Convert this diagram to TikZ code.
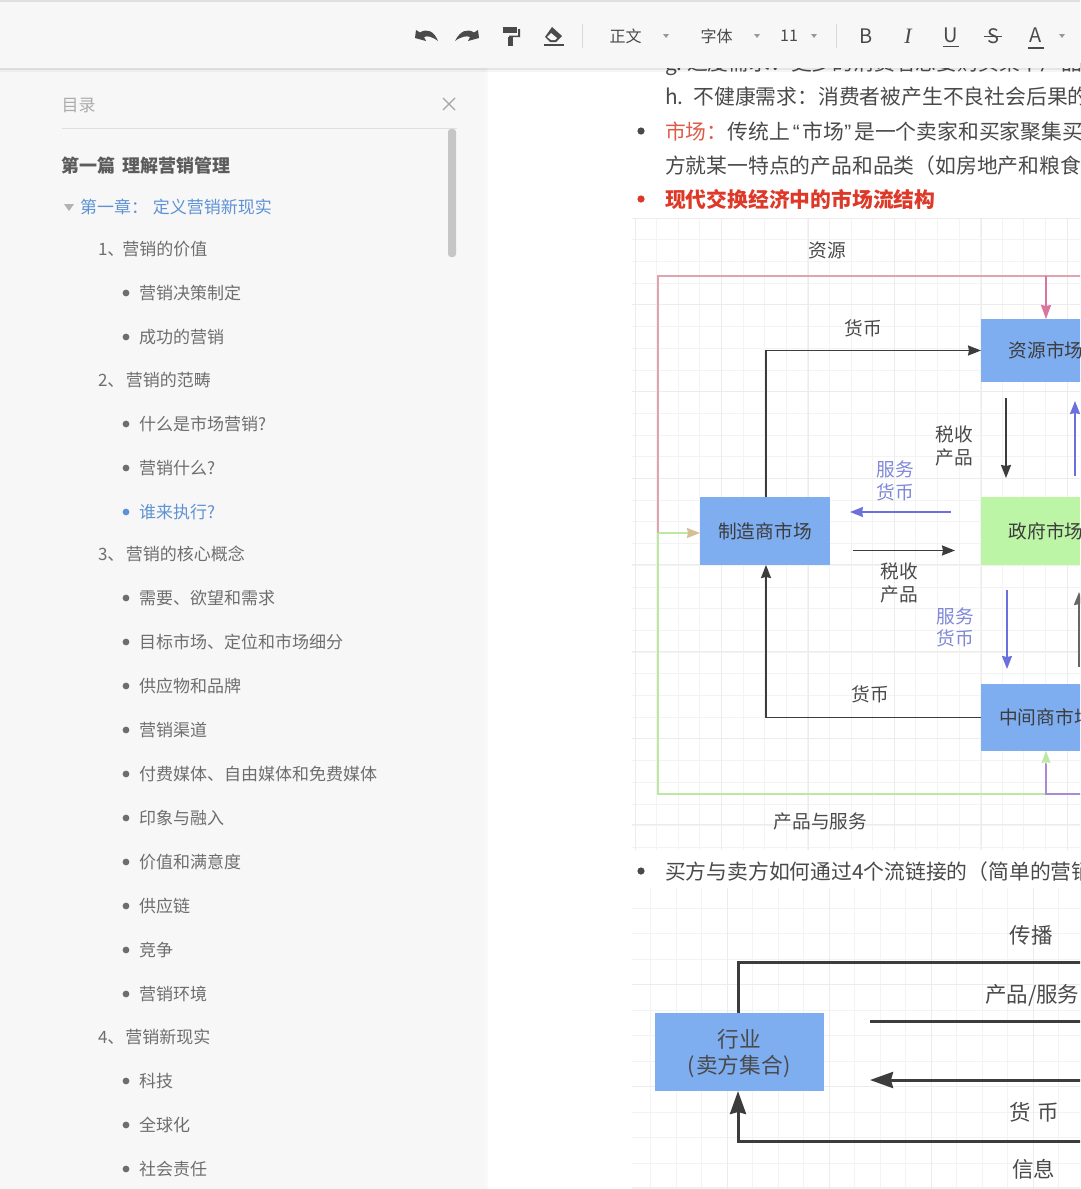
\documentclass[tikz,border=0pt]{standalone}
\usepackage{fontspec}
\setmainfont{Noto Sans CJK SC}
\newfontfamily\serifit{Liberation Serif}
\newfontfamily\latinq{Liberation Sans}
\usetikzlibrary{arrows.meta,calc}
\definecolor{barbg}{HTML}{F7F7F7}
\definecolor{ink}{HTML}{4A4A4A}
\definecolor{tocink}{HTML}{6E6E6E}
\definecolor{tocblue}{HTML}{5F92D4}
\definecolor{boxblue}{HTML}{7EADF0}
\definecolor{boxgreen}{HTML}{BDF5A6}
\definecolor{flowblue}{HTML}{6A70DC}
\definecolor{lblblue}{HTML}{8088D8}
\definecolor{pinkline}{HTML}{E3A3AE}
\definecolor{pinktip}{HTML}{DC74A0}
\definecolor{greenline}{HTML}{BDE8A4}
\definecolor{purpleline}{HTML}{A78BD6}
\definecolor{tantip}{HTML}{D6BE96}
\definecolor{gridfine}{HTML}{F3F3F3}
\definecolor{gridmajor}{HTML}{ECECEC}
\definecolor{arrowink}{HTML}{3C3C3C}
\definecolor{redhead}{HTML}{DE3828}
\definecolor{redlabel}{HTML}{DE5B4A}
\newcommand{\pxfont}[1]{\fontsize{#1}{#1}\selectfont}
\newcommand{\mlabel}[1]{\raisebox{-1pt}{#1}}
\tikzset{
  txt/.style={inner sep=0pt,outer sep=0pt,anchor=center,yshift=-0.4pt,text=ink,font=\pxfont{18.7}},
  body/.style={inner sep=0pt,outer sep=0pt,anchor=west,yshift=-0.4pt,text=ink,font=\pxfont{20.8}},
  toc/.style={inner sep=0pt,outer sep=0pt,anchor=west,yshift=-0.4pt,text=tocink,font=\pxfont{17}},
  tool/.style={inner sep=0pt,outer sep=0pt,anchor=center,text=ink,font=\pxfont{16}},
  market/.style={inner sep=0pt,outer sep=0pt,minimum width=130pt,fill=boxblue,text=arrowink,font=\pxfont{18.7}},
  flow/.style={draw=arrowink,line width=1.6pt,-{Stealth[length=13pt,width=10pt,inset=1pt]}},
  flowb/.style={draw=flowblue,line width=1.5pt,-{Stealth[length=13pt,width=10pt,inset=1pt]}},
  thickflow/.style={draw=arrowink,line width=3pt,-{Stealth[length=23pt,width=16pt,inset=2pt]}},
  thickline/.style={draw=arrowink,line width=3pt},
  caret/.style={fill=gray!80,draw=none}
}
\newcommand{\tocA}[2]{\node[toc] (a#1) at (98,#1) {#2};}
\newcommand{\tocB}[2]{\fill[tocink] (126,#1) circle (3.4pt); \node[toc] (b#1) at (139,#1) {#2};}
\begin{document}
\begin{tikzpicture}[x=1pt,y=-1pt]
\useasboundingbox (0,0) rectangle (1080,1189);
\clip (0,0) rectangle (1080,1189);
\fill[white] (0,0) rectangle (1080,1189);

% grids
\foreach \x in {635,656.6,...,1080} \draw[gridfine,line width=.8pt] (\x,218) -- (\x,850);
\foreach \y in {218,239.7,...,850} \draw[gridfine,line width=.8pt] (632,\y) -- (1080,\y);
\foreach \x in {635,721.5,808,894.5,981,1067.5} \draw[gridmajor,line width=.9pt] (\x,218) -- (\x,850);
\foreach \y in {218,304.7,391.4,478.1,564.8,651.5,738.2,824.9} \draw[gridmajor,line width=.9pt] (632,\y) -- (1080,\y);
\foreach \x in {650.5,676,...,1080} \draw[gridfine,line width=.8pt] (\x,888) -- (\x,1189);
\foreach \y in {908,933.5,...,1189} \draw[gridfine,line width=.8pt] (632,\y) -- (1080,\y);
\foreach \x in {727,829,931,1033} \draw[gridmajor,line width=.9pt] (\x,888) -- (\x,1189);
\foreach \y in {984,1086,1187} \draw[gridmajor,line width=.9pt] (632,\y) -- (1080,\y);

% document text
\node[body] (g) at (665,64) {g.\ 过度需求：更多的消费者想要购买某个产品};
\node[body] (h) at (665,96) {h.\ \hspace{5.5pt}不健康需求：消费者被产生不良社会后果的};
\fill[ink] (641,131) circle (3.6pt);
\node[body] (m1) at (665,131) {\textcolor{redlabel}{市场：}传统上\hspace{3pt}{\latinq “}\hspace{3pt}市场{\latinq ”}\hspace{3pt}是一个卖家和买家聚集买};
\node[body] (m2) at (665,165) {方就某一特点的产品和品类（如房地产和粮食};
\fill[redhead] (641,199) circle (3.6pt);
\node[body,text=redhead,font=\pxfont{20.8}\bfseries] (m3) at (665,199) {现代交换经济中的市场流结构};
\fill[ink] (641,871) circle (3.6pt);
\node[body] (m4) at (665,871) {买方与卖方如何通过4个流链接的（简单的营销};

% diagram 1
\node[market,minimum height=68pt] (maker) at (765,531) {\mlabel{制造商市场}};
\node[market,minimum height=63pt] (res) at (1046,350.5) {\mlabel{资源市场}};
\node[market,minimum height=68pt,fill=boxgreen] (gov) at (1046,531) {\mlabel{政府市场}};
\node[market,minimum height=67pt] (mid) at (1046,717.5) {\mlabel{中间商市场}};
\coordinate (pinkTL) at (658,276);
\coordinate (pinkR) at (1090,276);
\coordinate (pinkJ) at (1046,276);
\coordinate (split) at (658,533);
\coordinate (greenBL) at (658,794);
\coordinate (greenJ) at (1046,794);
\coordinate (purpleR) at (1090,794);
\draw[pinkline,line width=1.4pt] (split) -- (pinkTL) -- (pinkR);
\draw[pinktip,line width=1.8pt,-{Stealth[length=14pt,width=10pt,inset=1pt]}] (pinkJ) -- (res.north);
\draw[greenline,line width=1.4pt] (split) -- (greenBL) -- (greenJ);
\draw[greenline,line width=1.6pt,-{Stealth[length=13pt,width=10pt,inset=1pt,color=tantip]}] (split) -- (split -| maker.west);
\draw[purpleline,line width=1.4pt] (purpleR) -- (greenJ) -- ($(mid.south)+(0,12)$);
\draw[greenline,line width=1pt,-{Stealth[length=12pt,width=9pt,inset=1pt]}] ($(mid.south)+(0,13)$) -- (mid.south);

\coordinate (makerTop) at (766,497);
\coordinate (makerBot) at (766,565);
\draw[flow] (makerTop) |- (res.west);
\draw[flow] (mid.west) -| (makerBot);
\coordinate (c1a) at (1006,398); \coordinate (c1b) at (1006,478);
\draw[flow] (c1a) -- (c1b);
\coordinate (c2a) at (1075,476); \coordinate (c2b) at (1075,401);
\draw[flowb] (c2a) -- (c2b);
\coordinate (c3a) at (951,512); \coordinate (c3b) at (850,512);
\draw[flowb] (c3a) -- (c3b);
\coordinate (c4a) at (853,550.5); \coordinate (c4b) at (955,550.5);
\draw[flow] (c4a) -- (c4b);
\coordinate (c5a) at (1007,590); \coordinate (c5b) at (1007,669);
\draw[flowb] (c5a) -- (c5b);
\coordinate (c6a) at (1079,667); \coordinate (c6b) at (1079,592);
\draw[flow,line width=2.2pt,draw=gray!80!black] (c6a) -- (c6b);

\node[txt] (l1) at (827,250) {资源};
\node[txt] (l2) at (863,328) {货币};
\node[txt] (l3) at (954,434) {税收};
\node[txt] (l4) at (954,457) {产品};
\node[txt,text=lblblue] (l5) at (895,469) {服务};
\node[txt,text=lblblue] (l6) at (895,492) {货币};
\node[txt] (l7) at (899,571) {税收};
\node[txt] (l8) at (899,594) {产品};
\node[txt,text=lblblue] (l9) at (955,616) {服务};
\node[txt,text=lblblue] (l10) at (955,638) {货币};
\node[txt] (l11) at (870,694) {货币};
\node[txt] (l12) at (820.5,821) {产品与服务};

% diagram 2
\node[fill=boxblue,inner sep=0pt,minimum width=169pt,minimum height=78pt] (ind) at (739.5,1052) {};
\node[txt,font=\pxfont{21.7}] (ind1) at (739,1039) {行业};
\node[txt,font=\pxfont{21.7}] (ind2) at (739.5,1066) {(\hspace{.8pt}卖方集合\hspace{.8pt})};
\coordinate (indT) at (738,1013);
\coordinate (indB) at (738,1091);
\coordinate (topL) at (738,962);
\coordinate (topR) at (1090,962);
\coordinate (midAL) at (870,1021); \coordinate (midAR) at (1090,1021);
\coordinate (midBL) at (870,1080); \coordinate (midBR) at (1090,1080);
\coordinate (botL) at (738,1141);
\coordinate (botR) at (1090,1141);
\draw[thickline] (indT) -- (topL) -- (topR);
\draw[thickline] (midAL) -- (midAR);
\draw[thickflow] (midBR) -- (midBL);
\draw[thickflow] (botR) -- (botL) -- (indB);
\node[txt,font=\pxfont{21.5}] (t1) at (1031,935) {传播};
\node[txt,font=\pxfont{21.5},anchor=west] (t2) at (985,995) {产品/服务};
\node[txt,font=\pxfont{21.5}] (t3) at (1034,1112) {货\hspace{6pt}币};
\node[txt,font=\pxfont{21.5}] (t4) at (1033.5,1169) {信息};

% sidebar
\fill[black,opacity=.02] (486,68) rectangle (487.5,1189);
\fill[barbg] (0,68) rectangle (486,1189);
\node[toc,text=gray!65] (mulu) at (61.5,105) {目录};
\draw[gray!70,line width=1.1pt] (443,98) -- (455,110) (455,98) -- (443,110);
\draw[gray!25,line width=1pt] (62,128) -- (457,128);
\fill[gray!45,rounded corners=3pt] (448,129) rectangle (456,257);
\node[toc,font=\pxfont{18}\bfseries,text=ink!90] (part) at (61,165) {第一篇\hspace{8pt}理解营销管理};
\fill[gray!60] (64,204) -- (74,204) -- (69,211) -- cycle;
\node[toc,text=tocblue] (ch1) at (80,207) {第一章：\hspace{5pt}定义营销新现实};
\tocA{249}{1、\hspace{-2pt}营销的价值}
\tocB{293}{营销决策制定}
\tocB{337}{成功的营销}
\tocA{380}{2、\hspace{1.5pt}营销的范畴}
\tocB{424}{什么是市场营销?}
\tocB{468}{营销什么?}
\fill[tocblue] (126,512) circle (3.4pt);
\node[toc,text=tocblue] (b512) at (139,512) {谁来执行?};
\tocA{554}{3、\hspace{1.5pt}营销的核心概念}
\tocB{598}{需要、欲望和需求}
\tocB{642}{目标市场、定位和市场细分}
\tocB{686}{供应物和品牌}
\tocB{730}{营销渠道}
\tocB{774}{付费媒体、自由媒体和免费媒体}
\tocB{818}{印象与融入}
\tocB{862}{价值和满意度}
\tocB{906}{供应链}
\tocB{950}{竞争}
\tocB{994}{营销环境}
\tocA{1037}{4、\hspace{1pt}营销新现实}
\tocB{1081}{科技}
\tocB{1125}{全球化}
\tocB{1169}{社会责任}

% toolbar
\fill[black,opacity=.10] (0,68) rectangle (1080,70);
\fill[black,opacity=.04] (0,70) rectangle (1080,72);
\fill[barbg] (0,0) rectangle (1080,68);
\fill[gray!25] (0,0) rectangle (1080,1.5);
% undo / redo
\fill[ink] (415,38) -- (416,30) -- (420,32.5) .. controls (427,28) and (434,31) .. (438,41) .. controls (432,36.5) and (427,35.5) .. (424,37) -- (426,41) -- cycle;
\fill[ink] (479,38) -- (478,30) -- (474,32.5) .. controls (467,28) and (460,31) .. (455,41) .. controls (461,36.5) and (467,35.5) .. (470,37) -- (468,41) -- cycle;
% paint roller
\fill[ink] (503,27) rectangle (517,33);
\fill[ink] (518,29) rectangle (520,37) (509,35.5) rectangle (520,37);
\fill[ink] (508,37) rectangle (513,46);
% eraser
\fill[ink] (552,27) -- (562,36) -- (556,42) -- (550,42) -- (545,37) -- cycle;
\fill[barbg] (547,37) -- (551,33) -- (557,38) -- (555,40) -- (551,40) -- cycle;
\draw[ink,line width=1.3pt] (544,45) -- (564,45);
\draw[gray!30,line width=1pt] (582,24) -- (582,48);
\draw[gray!30,line width=1pt] (836,24) -- (836,48);
\node[tool] (t-zw) at (625.5,36) {正文};
\node[tool] (t-zt) at (716.5,36) {字体};
\node[tool,font=\pxfont{16}] (t-sz) at (789,36) {11};
\fill[caret] (663,34) -- (669,34) -- (666,38) -- cycle;
\fill[caret] (754,34) -- (760,34) -- (757,38) -- cycle;
\fill[caret] (811,34) -- (817,34) -- (814,38) -- cycle;
\fill[caret] (1059,34) -- (1065,34) -- (1062,38) -- cycle;
\node[tool,font=\pxfont{20}] (t-b) at (866,36) {B};
\node[tool,font=\pxfont{22}\serifit\itshape] (t-i) at (908,36) {I};
\node[tool,font=\pxfont{20}] (t-u) at (951,35) {U};
\draw[ink,line width=1pt] (943,46) -- (959,46);
\node[tool,font=\pxfont{20}] (t-s) at (993,36) {S};
\draw[ink,line width=1pt] (984,36) -- (1002,36);
\node[tool,font=\pxfont{20}] (t-a) at (1036,35) {A};
\draw[ink,line width=2.5pt] (1028,48) -- (1044,48);
\end{tikzpicture}
\end{document}
